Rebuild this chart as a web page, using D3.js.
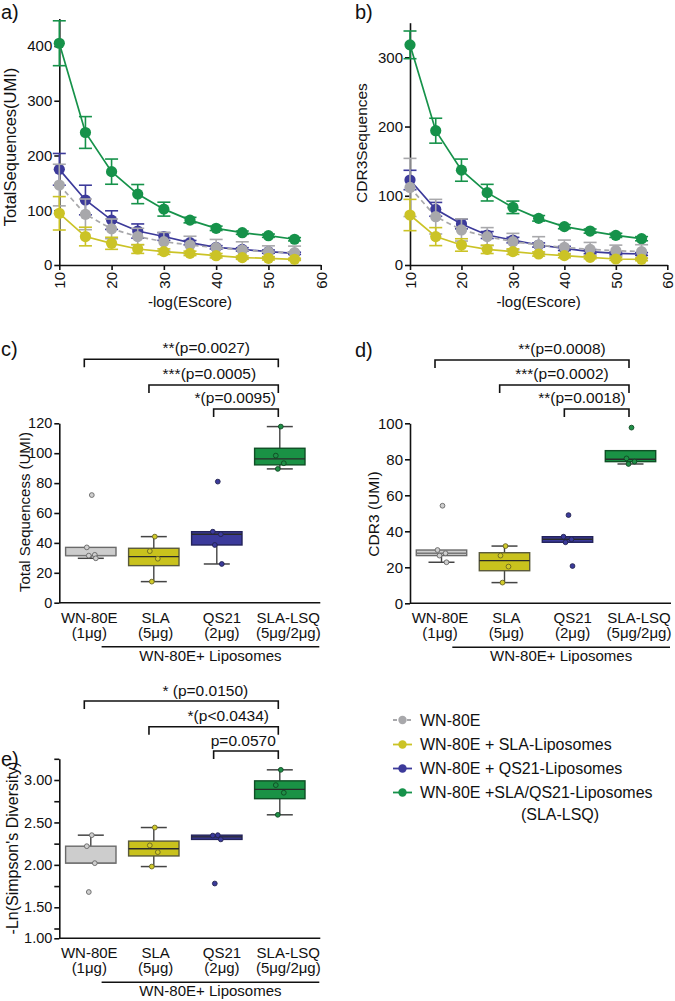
<!DOCTYPE html>
<html><head><meta charset="utf-8">
<script src="https://cdn.jsdelivr.net/npm/d3@7"></script>
<style>
body{margin:0;background:#fff;}
svg{display:block;}
</style></head><body>
<svg id="chart" width="675" height="1001"></svg>
<script>
// ================= DATA =================
const escore = [10, 15, 20, 25, 30, 35, 40, 45, 50, 55];
const xTicks = [10, 20, 30, 40, 50, 60];
const seriesNames = ["WN-80E", "WN-80E + SLA-Liposomes", "WN-80E + QS21-Liposomes", "WN-80E +SLA/QS21-Liposomes"];
const legendExtra = "(SLA-LSQ)";

// panel a: Total sequences (UMI)
const aGray      = [146, 92.5, 66, 52, 42.6, 36.5, 31.7, 27.4, 24, 22.5];
const aGrayErr   = [38, 28, 18, 15, 17, 16, 15, 15, 11, 12];
const aYellow    = [94.4, 52, 39.6, 29.2, 24.4, 21.3, 17, 13.4, 12.2, 10.4];
const aYellowErr = [30.5, 17, 11, 8, 5, 4, 4, 3, 3, 2];
const aBlue      = [174.7, 118.7, 82, 62, 52, 40.8, 32.3, 28.6, 24.4, 21.3];
const aBlueErr   = [29, 27, 17, 13, 7, 4, 3, 3, 3, 2];
const aGreen     = [405, 242, 170.5, 129.5, 102, 82, 67, 59, 53.5, 47];
const aGreenErr  = [41, 29, 23, 17.5, 12.7, 5, 4, 3, 3, 3];
const aYTicks = [0, 100, 200, 300, 400];

// panel b: CDR3 sequences
const bGray      = [112, 69.8, 50.6, 41, 33.7, 28.9, 25.5, 22.6, 20.7, 19.3];
const bGrayErr   = [42, 25, 16, 13, 12, 12, 10.5, 10, 8, 10];
const bYellow    = [72.2, 41, 28.9, 22.6, 19.3, 15.9, 13.5, 11, 8.7, 8.2];
const bYellowErr = [22.6, 13, 9, 6, 4, 3, 3, 2, 2, 2];
const bBlue      = [122.8, 80.4, 59.2, 43.3, 36, 28.9, 24, 19.3, 16.8, 15.9];
const bBlueErr   = [14, 10, 7, 5, 4, 3, 3, 3, 2, 2];
const bGreen     = [318, 194, 137, 104.5, 83.3, 67.4, 55.4, 49, 42.8, 38];
const bGreenErr  = [20, 18, 16, 12, 9, 4, 3, 3, 3, 3];
const bYTicks = [0, 100, 200, 300];

// box panels
const categories = ["WN-80E", "SLA", "QS21", "SLA-LSQ"];
const doses = ["(1μg)", "(5μg)", "(2μg)", "(5μg/2μg)"];
const groupLabel = "WN-80E+ Liposomes";

// panel c: Total Sequencess (UMI)
const cQ1   = [31.5, 24.8, 38.6, 92.2];
const cMed  = [31.5, 30.8, 45.8, 96.2];
const cQ3   = [37, 36.4, 47.5, 103.3];
const cWLo  = [29.7, 14.1, 25.9, 89.5];
const cWHi  = [null, 44.2, null, 117.8];
const cPts  = [[72, 37, 32, 31.5, 29.7], [44.2, 34.5, 29.4, 14.1], [81, 47.5, 45.8, 38.6, 25.9], [117.8, 98.4, 93.3, 89.5]];
const cYTicks = [0, 20, 40, 60, 80, 100, 120];
const cBrackets = [["WN-80E", "SLA-LSQ", "**(p=0.0027)"], ["SLA", "SLA-LSQ", "***(p=0.0005)"], ["QS21", "SLA-LSQ", "*(p=0.0095)"]];

// panel d: CDR3 (UMI)
const dQ1   = [26.5, 18.1, 33.9, 78.7];
const dMed  = [27.8, 23.7, 35.6, 80];
const dQ3   = [29.6, 28.1, 37, 84.8];
const dWLo  = [22.8, 11.5, null, 77.4];
const dWHi  = [null, 31.8, null, null];
const dPts  = [[54.2, 29.6, 27.8, 26.5, 22.8], [31.8, 26.5, 20.4, 11.5], [49, 37, 35.6, 33.9, 20.7], [97.6, 80.5, 78.7, 77.4]];
const dYTicks = [0, 20, 40, 60, 80, 100];
const dBrackets = [["WN-80E", "SLA-LSQ", "**(p=0.0008)"], ["SLA", "SLA-LSQ", "***(p=0.0002)"], ["QS21", "SLA-LSQ", "**(p=0.0018)"]];

// panel e: -Ln(Simpson's Diversity)
const eQ1   = [2.02, 2.105, 2.30, 2.78];
const eMed  = [2.02, 2.19, 2.33, 2.89];
const eQ3   = [2.22, 2.28, 2.35, 2.99];
const eWLo  = [null, 1.98, null, 2.59];
const eWHi  = [2.35, 2.44, null, 3.12];
const ePts  = [[2.35, 2.22, 2.02, 1.68], [2.44, 2.23, 2.15, 1.98], [2.35, 2.345, 2.30, 1.78], [3.12, 2.94, 2.85, 2.59]];
const eYTicks = [1, 1.25, 1.5, 1.75, 2, 2.25, 2.5, 2.75, 3, 3.25];
const eYLabeled = [1, 1.5, 2, 2.5, 3];
const eBrackets = [["WN-80E", "SLA-LSQ", "* (p=0.0150)"], ["SLA", "SLA-LSQ", "*(p<0.0434)"], ["QS21", "SLA-LSQ", "p=0.0570"]];

// ================= STYLE / LAYOUT =================
const FONT = '"Liberation Sans", Arial, Helvetica, sans-serif';
const lineColors = ["#a8a8ab", "#cbc326", "#3c3a9a", "#16924a"];
const boxFill    = ["#cdcdcd", "#c9c21d", "#3b3a9b", "#1a9245"];
const boxStroke  = ["#6a6a6a", "#5a5a3a", "#23235a", "#0f4f25"];
const ptFill     = ["#cfcfcf", "#d2cb2a", "#3b3a9b", "#1f8f47"];
const ptStroke   = ["#666", "#6b6620", "#22224f", "#0e4a22"];
const jitter = [1, -4, 4, -2, 5];

const svg = d3.select("#chart");

function styleAxis(g, fs) {
  g.attr("font-family", FONT).attr("font-size", fs);
  g.selectAll(".domain, .tick line").attr("stroke", "#111").attr("stroke-width", 1.6);
  g.selectAll("text").attr("fill", "#111");
}

function addText(g, txt, x, y, fs, anchor, rot) {
  const t = g.append("text").attr("x", x).attr("y", y)
    .attr("font-family", FONT).attr("font-size", fs).attr("fill", "#111")
    .attr("text-anchor", anchor || "start").text(txt);
  if (rot) t.attr("transform", `rotate(${rot},${x},${y})`);
  return t;
}

// ---------- line panels ----------
function linePanel(cfg) {
  const g = svg.append("g");
  const x = d3.scaleLinear().domain([10, 60]).range([cfg.x0, cfg.x1]);
  const y = d3.scaleLinear().domain([0, cfg.yMax]).range([cfg.yBottom, cfg.yTop]);

  const xa = g.append("g").attr("transform", `translate(0,${cfg.yBottom})`)
    .call(d3.axisBottom(x).tickValues(xTicks).tickSize(5).tickSizeOuter(0));
  styleAxis(xa, 15);
  xa.selectAll("text").attr("transform", "rotate(-90)").attr("text-anchor", "end")
    .attr("x", -7).attr("y", 0).attr("dy", "0.36em");

  const ya = g.append("g").attr("transform", `translate(${cfg.x0},0)`)
    .call(d3.axisLeft(y).tickValues(cfg.yTicks).tickSize(5).tickSizeOuter(0).tickPadding(2));
  styleAxis(ya, 15);

  addText(g, cfg.ylabel, cfg.ylabX, cfg.ylabY, cfg.ylabFs, "middle", -90);
  addText(g, "-log(EScore)", (cfg.x0 + cfg.x1) / 2, 307, 15, "middle");
  addText(g, cfg.title, cfg.titleX, 19, 20, "start");

  const line = d3.line().x(d => x(d.x)).y(d => y(d.y));
  // draw order: green, blue, gray, yellow
  [3, 2, 0, 1].forEach(si => {
    const s = cfg.series[si];
    const pts = escore.map((e, i) => ({ x: e, y: s.vals[i], err: s.errs[i] }));
    const sg = g.append("g");
    sg.append("path").datum(pts).attr("d", line).attr("fill", "none")
      .attr("stroke", lineColors[si]).attr("stroke-width", 1.7)
      .attr("stroke-dasharray", si === 0 ? "5,3.5" : null);
    const eb = sg.append("g").attr("stroke", lineColors[si]).attr("stroke-width", 1.6)
      .selectAll("g").data(pts).join("g");
    eb.append("line").attr("x1", d => x(d.x)).attr("x2", d => x(d.x))
      .attr("y1", d => y(d.y - d.err)).attr("y2", d => y(d.y + d.err));
    eb.append("line").attr("x1", d => x(d.x) - 6.5).attr("x2", d => x(d.x) + 6.5)
      .attr("y1", d => y(d.y + d.err)).attr("y2", d => y(d.y + d.err));
    eb.append("line").attr("x1", d => x(d.x) - 6.5).attr("x2", d => x(d.x) + 6.5)
      .attr("y1", d => y(d.y - d.err)).attr("y2", d => y(d.y - d.err));
    sg.append("g").selectAll("circle").data(pts).join("circle")
      .attr("cx", d => x(d.x)).attr("cy", d => y(d.y)).attr("r", 5.6)
      .attr("fill", lineColors[si]);
  });
}

linePanel({
  x0: 59.3, x1: 320.7, yBottom: 265, yTop: 18.6, yMax: 450, yTicks: aYTicks,
  ylabel: "TotalSequences(UMI)", ylabX: 16, ylabY: 147, ylabFs: 16.5,
  title: "a)", titleX: 1,
  series: [
    { vals: aGray, errs: aGrayErr }, { vals: aYellow, errs: aYellowErr },
    { vals: aBlue, errs: aBlueErr }, { vals: aGreen, errs: aGreenErr }
  ]
});
linePanel({
  x0: 410, x1: 667.3, yBottom: 265, yTop: 22.7, yMax: 350, yTicks: bYTicks,
  ylabel: "CDR3Sequences", ylabX: 367, ylabY: 143, ylabFs: 15.5,
  title: "b)", titleX: 355,
  series: [
    { vals: bGray, errs: bGrayErr }, { vals: bYellow, errs: bYellowErr },
    { vals: bBlue, errs: bBlueErr }, { vals: bGreen, errs: bGreenErr }
  ]
});

// ---------- box panels ----------
function boxPanel(cfg) {
  const g = svg.append("g");
  const xb = d3.scaleBand().domain(categories).range([cfg.x0, cfg.x0 + 252]).paddingInner(0.2).paddingOuter(0.1);
  const xl = d3.scalePoint().domain(categories).range([cfg.x0 + 30, cfg.x0 + 229]);
  const xk = d3.scalePoint().domain(categories).range([cfg.x0 + 25, cfg.x0 + 219]);
  const y = cfg.y;
  const yB = y.range()[0];

  const ya = g.append("g").attr("transform", `translate(${cfg.x0},0)`)
    .call(d3.axisLeft(y).tickValues(cfg.yTicks).tickSize(5).tickSizeOuter(0).tickPadding(2)
      .tickFormat(cfg.fmt || d3.format("d")));
  styleAxis(ya, cfg.tickFs);
  g.append("line").attr("x1", cfg.x0).attr("x2", cfg.x0 + 261).attr("y1", yB).attr("y2", yB)
    .attr("stroke", "#111").attr("stroke-width", 1.6);

  categories.forEach((c, i) => {
    addText(g, c, xl(c), yB + 20, 15, "middle");
    addText(g, doses[i], xl(c), yB + 35, 15, "middle");
  });
  g.append("line").attr("x1", xb("SLA") - 27).attr("x2", cfg.x0 + 260)
    .attr("y1", yB + 44).attr("y2", yB + 44).attr("stroke", "#111").attr("stroke-width", 1.5);
  addText(g, groupLabel, (xb("SLA") - 27 + cfg.x0 + 260) / 2, yB + 58, 15, "middle");

  addText(g, cfg.ylabel, cfg.ylabX, cfg.ylabY, cfg.ylabFs, "middle", -90);
  addText(g, cfg.title, cfg.titleX, cfg.titleY, 20, "start");

  cfg.brackets.forEach((b, i) => {
    const yl = cfg.brY[i];
    const x1 = xk(b[0]), x2 = xk(b[1]);
    g.append("path").attr("d", `M${x1},${yl + 8}V${yl}H${x2}V${yl + 8}`)
      .attr("fill", "none").attr("stroke", "#111").attr("stroke-width", 1.6);
    addText(g, b[2], cfg.x0 + cfg.brLabX[i], yl - cfg.brLabDy, 15.5, "middle");
  });

  categories.forEach((c, i) => {
    const cx = xb(c) + xb.bandwidth() / 2;
    const w = xb.bandwidth();
    const bg = g.append("g");
    const wcol = "#444";
    if (cfg.wlo[i] != null) {
      bg.append("line").attr("x1", cx).attr("x2", cx).attr("y1", y(cfg.q1[i])).attr("y2", y(cfg.wlo[i]))
        .attr("stroke", wcol).attr("stroke-width", 1.4);
      bg.append("line").attr("x1", cx - 13).attr("x2", cx + 13).attr("y1", y(cfg.wlo[i])).attr("y2", y(cfg.wlo[i]))
        .attr("stroke", wcol).attr("stroke-width", 1.5);
    }
    if (cfg.whi[i] != null) {
      bg.append("line").attr("x1", cx).attr("x2", cx).attr("y1", y(cfg.q3[i])).attr("y2", y(cfg.whi[i]))
        .attr("stroke", wcol).attr("stroke-width", 1.4);
      bg.append("line").attr("x1", cx - 13).attr("x2", cx + 13).attr("y1", y(cfg.whi[i])).attr("y2", y(cfg.whi[i]))
        .attr("stroke", wcol).attr("stroke-width", 1.5);
    }
    bg.append("rect").attr("x", cx - w / 2).attr("width", w)
      .attr("y", y(cfg.q3[i])).attr("height", Math.max(1, y(cfg.q1[i]) - y(cfg.q3[i])))
      .attr("fill", boxFill[i]).attr("stroke", boxStroke[i]).attr("stroke-width", 1.4);
    bg.append("line").attr("x1", cx - w / 2).attr("x2", cx + w / 2)
      .attr("y1", y(cfg.med[i])).attr("y2", y(cfg.med[i]))
      .attr("stroke", i === 0 ? "#777" : "#2a2a2a").attr("stroke-width", 1.4);
    bg.append("g").selectAll("circle").data(cfg.pts[i]).join("circle")
      .attr("cx", (d, k) => cx + jitter[k % jitter.length]).attr("cy", d => y(d)).attr("r", 2.4)
      .attr("fill", ptFill[i]).attr("stroke", ptStroke[i]).attr("stroke-width", 0.9);
  });
}

boxPanel({
  x0: 59.3, y: d3.scaleLinear().domain([0, 120]).range([602.7, 423.3]), yTicks: cYTicks, tickFs: 14.5,
  q1: cQ1, med: cMed, q3: cQ3, wlo: cWLo, whi: cWHi, pts: cPts, brackets: cBrackets,
  brY: [359.3, 385, 409], brLabX: [147, 150, 176], brLabDy: 6.5,
  ylabel: "Total Sequencess (UMI)", ylabX: 30, ylabY: 512, ylabFs: 15,
  title: "c)", titleX: 1, titleY: 356
});
boxPanel({
  x0: 410, y: d3.scaleLinear().domain([0, 100]).range([603.3, 423.3]), yTicks: dYTicks, tickFs: 15,
  q1: dQ1, med: dMed, q3: dQ3, wlo: dWLo, whi: dWHi, pts: dPts, brackets: dBrackets,
  brY: [360, 385, 409], brLabX: [152, 152, 172], brLabDy: 6.5,
  ylabel: "CDR3 (UMI)", ylabX: 379, ylabY: 514, ylabFs: 15.5,
  title: "d)", titleX: 355, titleY: 357
});
boxPanel({
  x0: 59.3, y: d3.scaleLinear().domain([1, 1.25, 3.25]).range([938.3, 928.5, 758.8]), yTicks: eYTicks, tickFs: 14.5,
  fmt: d => eYLabeled.includes(d) ? d3.format(".2f")(d) : "",
  q1: eQ1, med: eMed, q3: eQ3, wlo: eWLo, whi: eWHi, pts: ePts, brackets: eBrackets,
  brY: [701, 726.7, 751], brLabX: [146, 169, 184], brLabDy: 5.5,
  ylabel: "-Ln(Simpson's Diversity)", ylabX: 18, ylabY: 848, ylabFs: 16,
  title: "e)", titleX: 1, titleY: 766
});

// ---------- legend ----------
const lg = svg.append("g");
const legY = [720, 744.5, 768.5, 792.5];
seriesNames.forEach((n, i) => {
  const yy = legY[i];
  lg.append("line").attr("x1", 393).attr("x2", 412).attr("y1", yy).attr("y2", yy)
    .attr("stroke", lineColors[i]).attr("stroke-width", 1.8)
    .attr("stroke-dasharray", i === 0 ? "4,3" : null);
  lg.append("circle").attr("cx", 402.5).attr("cy", yy).attr("r", 4.2).attr("fill", lineColors[i]);
  addText(lg, n, 420, yy + 5.8, 16, "start");
});
addText(lg, legendExtra, 560, 814 + 5.8, 16, "middle");
</script>
</body></html>
